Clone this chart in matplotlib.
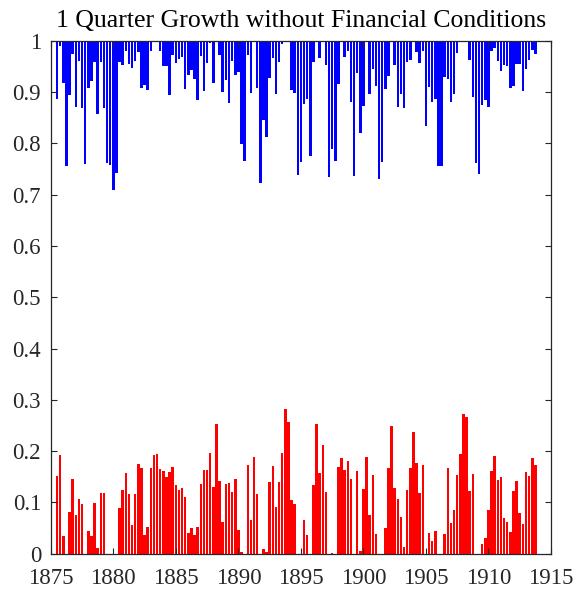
import numpy as np
import matplotlib
matplotlib.use("Agg")
import matplotlib.pyplot as plt

start_year = 1875.5
step = 0.25

red_vals = [
    0.151, 0.192, 0.035, 0.0, 0.081, 0.146, 0.075, 0.106, 0.097, 0.0,
    0.044, 0.035, 0.098, 0.012, 0.119, 0.118, 0.0, 0.0, 0.0, 0.0,
    0.089, 0.125, 0.157, 0.117, 0.055, 0.116, 0.174, 0.167, 0.036, 0.053,
    0.168, 0.192, 0.195, 0.166, 0.161, 0.150, 0.160, 0.170, 0.133, 0.125,
    0.129, 0.111, 0.040, 0.050, 0.036, 0.053, 0.136, 0.164, 0.163, 0.196,
    0.130, 0.252, 0.142, 0.061, 0.136, 0.137, 0.120, 0.146, 0.046, 0.003,
    0.0, 0.173, 0.066, 0.189, 0.116, 0.0, 0.009, 0.004, 0.140, 0.171,
    0.091, 0.139, 0.197, 0.282, 0.257, 0.105, 0.097, 0.0, 0.0, 0.066,
    0.037, 0.0, 0.134, 0.253, 0.157, 0.212, 0.120, 0.0, 0.001, 0.0,
    0.169, 0.186, 0.164, 0.181, 0.146, 0.0, 0.162, 0.005, 0.127, 0.188,
    0.075, 0.154, 0.038, 0.0, 0.0, 0.050, 0.167, 0.248, 0.129, 0.107,
    0.071, 0.014, 0.125, 0.167, 0.237, 0.176, 0.118, 0.172, 0.0, 0.040,
    0.025, 0.045, 0.0, 0.0, 0.038, 0.168, 0.060, 0.086, 0.153, 0.195,
    0.272, 0.266, 0.123, 0.155, 0.0, 0.0, 0.019, 0.031, 0.086, 0.162,
    0.190, 0.144, 0.149, 0.069, 0.062, 0.042, 0.123, 0.142, 0.079, 0.057,
    0.159, 0.151, 0.186, 0.172,
]

blue_vals = [
    0.886, 0.990, 0.918, 0.756, 0.895, 0.975, 0.871, 0.960, 0.868, 0.759,
    0.908, 0.921, 0.959, 0.858, 0.958, 0.869, 0.761, 0.757, 0.709, 0.743,
    0.958, 0.953, 0.979, 0.954, 0.947, 0.960, 0.978, 0.908, 0.914, 0.903,
    0.980, 0.998, 0.997, 0.980, 0.951, 0.951, 0.895, 0.973, 0.956, 0.965,
    0.968, 0.905, 0.934, 0.942, 0.926, 0.884, 0.971, 0.901, 0.957, 0.995,
    0.918, 1.000, 0.973, 0.900, 0.924, 0.878, 0.960, 0.934, 0.939, 0.799,
    0.766, 0.972, 0.899, 0.998, 0.908, 0.722, 0.845, 0.812, 0.928, 0.967,
    0.897, 0.958, 0.993, 1.000, 1.000, 0.904, 0.899, 0.738, 0.763, 0.877,
    0.886, 0.776, 0.958, 1.000, 0.966, 1.000, 0.952, 0.734, 0.788, 0.766,
    0.916, 1.000, 0.969, 0.980, 0.881, 0.736, 0.938, 0.821, 0.872, 1.000,
    0.897, 0.945, 0.912, 0.730, 0.764, 0.906, 0.932, 1.000, 0.953, 0.871,
    0.897, 0.868, 0.958, 0.962, 1.000, 0.978, 0.956, 0.980, 0.834, 0.909,
    0.881, 0.886, 0.756, 0.756, 0.930, 0.925, 0.881, 0.896, 0.977, 1.000,
    1.000, 1.000, 0.962, 0.890, 0.761, 0.740, 0.875, 0.884, 0.870, 0.980,
    0.986, 0.960, 0.940, 0.953, 0.950, 0.908, 0.912, 0.955, 0.955, 0.902,
    0.945, 0.963, 0.982, 0.975,
]

x_ticks = [1875, 1880, 1885, 1890, 1895, 1900, 1905, 1910, 1915]
y_ticks = [0, 0.1, 0.2, 0.3, 0.4, 0.5, 0.6, 0.7, 0.8, 0.9, 1]
y_ticklabels = ["0", "0.1", "0.2", "0.3", "0.4", "0.5", "0.6", "0.7", "0.8", "0.9", "1"]
title = "1 Quarter Growth without Financial Conditions"

plt.rcParams["font.family"] = ["Liberation Serif", "DejaVu Serif"]

red = np.array(red_vals)
blue = np.array(blue_vals)
dates = start_year + step * np.arange(len(red))

fig = plt.figure(figsize=(5.78, 5.90), dpi=100)
ax = fig.add_axes([0.0879, 0.0615, 0.8654, 0.8695])

bw = 0.8 * step
ax.bar(dates, red, width=bw, color="#ff0000", edgecolor="none", linewidth=0)
ax.bar(dates, 1 - blue, bottom=blue, width=bw, color="#0000ff", edgecolor="none", linewidth=0)

ax.set_xlim(1875, 1915)
ax.set_ylim(0, 1)
ax.set_xticks(x_ticks)
ax.set_xticklabels([str(t) for t in x_ticks])
ax.set_yticks(y_ticks)
ax.set_yticklabels(y_ticklabels)

dark = "#262626"
for s in ax.spines.values():
    s.set_color(dark)
    s.set_linewidth(0.9)
ax.tick_params(direction="in", length=4.5, width=0.8, color=dark, labelcolor=dark,
               labelsize=16.5, top=True, right=True)
ax.tick_params(axis="x", pad=10)
ax.tick_params(axis="y", pad=7)
ax.set_title(title, fontsize=18.5, color="black", pad=10)

fig.savefig("out.png", dpi=100)
